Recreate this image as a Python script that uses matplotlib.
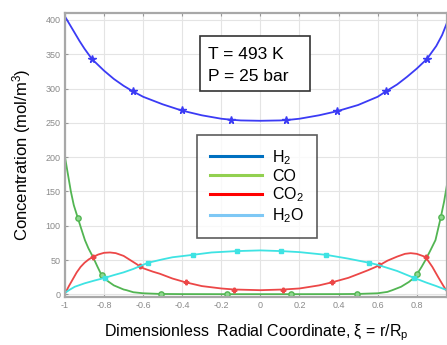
import matplotlib
matplotlib.use("Agg")
import matplotlib.pyplot as plt
from matplotlib.lines import Line2D
from matplotlib.patches import Rectangle

plt.rcParams['font.family'] = ['Liberation Sans', 'DejaVu Sans']
plt.rcParams['mathtext.fontset'] = 'custom'
plt.rcParams['mathtext.rm'] = 'Liberation Sans'
plt.rcParams['mathtext.it'] = 'Liberation Sans:italic'

# ---- data ----
h2_x = [-1.0, -0.975, -0.95, -0.925, -0.9, -0.862, -0.8, -0.75, -0.7, -0.653, -0.6, -0.5,
        -0.403, -0.3, -0.2, -0.148, -0.1, 0.0, 0.1, 0.133, 0.2, 0.3, 0.393, 0.5, 0.6,
        0.643, 0.7, 0.75, 0.8, 0.852, 0.9, 0.93, 0.955]
h2_y = [405, 393, 381, 369, 358, 343, 326, 314, 304, 296, 288, 277,
        268, 261, 256, 254.5, 253.5, 253, 253.5, 254, 256, 261, 267, 276, 288,
        296, 306, 317, 329, 343, 362, 378, 396]
h2_marks = [-0.862, -0.653, -0.403, -0.148, 0.133, 0.393, 0.643, 0.852]

co_x = [-1.0, -0.985, -0.97, -0.955, -0.934, -0.915, -0.898, -0.88, -0.856, -0.835, -0.813,
        -0.8, -0.78, -0.75, -0.7, -0.685, -0.65, -0.6, -0.51, -0.4, -0.173, 0.0, 0.158,
        0.4, 0.495, 0.6, 0.65, 0.675, 0.72, 0.76, 0.786, 0.803, 0.825, 0.845, 0.87,
        0.896, 0.923, 0.94, 0.955]
co_y = [200, 175, 150, 130, 111, 94, 79, 67, 54, 41, 28,
        24, 19, 13, 7, 6, 3, 1.5, 0.5, 0.3, 0.2, 0.2, 0.2,
        0.3, 0.5, 1.5, 3.5, 6, 11, 18, 24, 30, 40, 50, 64,
        79, 112, 135, 160]
co_marks = [-0.934, -0.813, -0.51, -0.173, 0.158, 0.495, 0.803, 0.923]

co2_x = [-1.0, -0.98, -0.96, -0.94, -0.92, -0.9, -0.878, -0.856, -0.83, -0.8, -0.77,
         -0.74, -0.7, -0.65, -0.617, -0.6, -0.55, -0.515, -0.45, -0.383, -0.3, -0.2,
         -0.133, 0.0, 0.117, 0.2, 0.3, 0.367, 0.45, 0.505, 0.55, 0.607, 0.65, 0.7,
         0.74, 0.769, 0.8, 0.845, 0.88, 0.91, 0.935, 0.955]
co2_y = [1, 12, 22, 32, 40, 46, 51, 54.5, 58, 60.5, 61,
         60, 56, 47, 41, 38, 33, 30, 23, 17.5, 12, 8.5,
         7, 6, 7, 8.5, 13, 17.5, 24, 30, 35, 42, 49, 55,
         59, 60, 59, 54.5, 40, 25, 13, 4]
co2_marks = [-0.856, -0.617, -0.383, -0.133, 0.117, 0.367, 0.607, 0.845]

h2o_x = [-1.0, -0.98, -0.95, -0.9, -0.85, -0.796, -0.75, -0.7, -0.65, -0.6, -0.575,
         -0.5, -0.45, -0.347, -0.25, -0.122, 0.0, 0.107, 0.2, 0.337, 0.45, 0.556, 0.6,
         0.7, 0.786, 0.85, 0.9, 0.955]
h2o_y = [2, 6, 11, 16, 20, 24, 28, 32, 37, 43, 46,
         51, 54, 57.5, 61, 63, 64, 63, 61.5, 57.5, 52, 46, 43,
         34, 24, 17, 12, 6]
h2o_marks = [-0.796, -0.575, -0.347, -0.122, 0.107, 0.337, 0.556, 0.786]

xticks = [-1, -0.8, -0.6, -0.4, -0.2, 0, 0.2, 0.4, 0.6, 0.8]
xtick_labels = ['-1', '-0.8', '-0.6', '-0.4', '-0.2', '0', '0.2', '0.4', '0.6', '0.8']
yticks = [0, 50, 100, 150, 200, 250, 300, 350, 400]

legend_labels = ['H$_2$', 'CO', 'CO$_2$', 'H$_2$O']
legend_colors = ['#0070c0', '#92d050', '#ff0000', '#7ec8f5']
conditions = ['T = 493 K', 'P = 25 bar']

fig = plt.figure(figsize=(4.47, 3.45), dpi=100)
ax = fig.add_axes([0.1454, 0.139, 0.8546, 0.823])

def curve(x, y, marks, color, marker, ms, mfc):
    idx = [x.index(m) for m in marks]
    ax.plot(x, y, color=color, lw=1.3, marker=marker, markevery=idx,
            ms=ms, mfc=mfc, mec=color, mew=1.0)

curve(h2_x, h2_y, h2_marks, '#3b3bf5', '*', 5.5, '#3b3bf5')
curve(co_x, co_y, co_marks, '#52b552', 'o', 3.8, '#8fd88f')
curve(co2_x, co2_y, co2_marks, '#ec4747', 'P', 3.3, '#ec4747')
curve(h2o_x, h2o_y, h2o_marks, '#3ee3e3', 's', 3.0, '#3ee3e3')

ax.set_xlim(-1, 0.955)
ax.set_ylim(-4, 410)
ax.set_xticks(xticks)
ax.set_xticklabels(xtick_labels)
ax.set_yticks(yticks)
ax.grid(True, color='#e4e4e4', lw=0.8)
ax.set_axisbelow(True)
ax.tick_params(direction='in', length=2.5, width=0.8, color='#999999',
               labelcolor='#8a8a8a', labelsize=6.5, top=True, pad=3)
for s in ax.spines.values():
    s.set_color('#a8a8a8')
    s.set_linewidth(1.6)

ax.set_ylabel('Concentration (mol/m$^3$)', fontsize=12, labelpad=9)
ax.set_xlabel(r'Dimensionless  Radial Coordinate, ξ = r/R$_\mathrm{p}$', fontsize=11.5, labelpad=9)

# conditions box
ax.add_patch(Rectangle((0.3534, 0.725), 0.288, 0.194, transform=ax.transAxes,
                       fc='white', ec='#333333', lw=1.2, zorder=5))
ax.text(0.375, 0.855, conditions[0], transform=ax.transAxes, fontsize=12.5,
        va='center', ha='left', zorder=6)
ax.text(0.375, 0.778, conditions[1], transform=ax.transAxes, fontsize=12.5,
        va='center', ha='left', zorder=6)

handles = [Line2D([], [], color=c, lw=2.2) for c in legend_colors]
leg = ax.legend(handles, legend_labels, loc='upper left', bbox_to_anchor=(0.3455, 0.570),
                borderaxespad=0, fontsize=11.5, frameon=True, fancybox=False,
                handlelength=3.3, handletextpad=0.6, labelspacing=0.12,
                borderpad=0.8)
leg.get_frame().set_edgecolor('#333333')
leg.get_frame().set_linewidth(1.2)
leg.set_zorder(6)

fig.savefig('out.png', dpi=100)
